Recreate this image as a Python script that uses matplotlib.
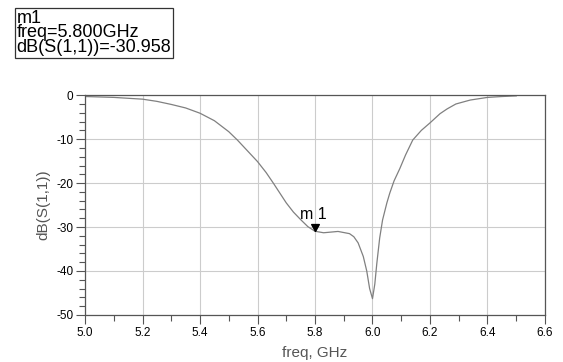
import matplotlib as mpl
mpl.use('Agg')
import matplotlib.pyplot as plt
from matplotlib.ticker import MultipleLocator

plt.rcParams['font.family'] = ['Liberation Sans', 'DejaVu Sans']

# S11 sweep
freq = [5.0, 5.1, 5.15, 5.2, 5.25, 5.3, 5.35, 5.4, 5.45, 5.5, 5.53, 5.57, 5.6,
        5.63, 5.655, 5.68, 5.7, 5.725, 5.75, 5.775, 5.8,
        5.83, 5.88, 5.92, 5.935, 5.95, 5.968, 5.98, 5.99, 6.0, 6.008, 6.015,
        6.025, 6.035, 6.05, 6.06, 6.075, 6.095, 6.115, 6.14, 6.17, 6.2,
        6.235, 6.26, 6.29, 6.34, 6.4, 6.45, 6.5]
s11 = [-0.3, -0.5, -0.7, -0.9, -1.4, -2.1, -2.9, -4.1, -5.8, -8.3, -10.2, -13.0, -15.1,
       -17.6, -20.0, -22.5, -24.5, -26.6, -28.3, -29.9, -30.958,
       -31.3, -31.0, -31.5, -32.2, -33.6, -36.7, -40.0, -44.0, -46.3, -43.0, -38.3,
       -32.5, -28.4, -24.5, -22.3, -19.5, -16.7, -13.6, -10.2, -8.0, -6.3,
       -4.2, -3.1, -2.0, -1.1, -0.5, -0.3, -0.15]

marker_name = 'm1'
marker_freq = 5.8
marker_val = -30.958

xticks = [5.0, 5.2, 5.4, 5.6, 5.8, 6.0, 6.2, 6.4, 6.6]
yticks = [-50, -40, -30, -20, -10, 0]

fig = plt.figure(figsize=(5.63, 3.62), dpi=100)
ax = fig.add_axes([0.151, 0.130, 0.817, 0.607])

ax.plot(freq, s11, color='#808080', lw=0.9)
# marker triangle with its tip on the trace
tri = [(0, 0), (-0.55, 1.0), (0.55, 1.0), (0, 0)]
ax.plot([marker_freq], [marker_val], marker=tri, color='black', ms=10, linestyle='none')
ax.annotate('m 1', xy=(marker_freq, marker_val), xytext=(-1, 7),
            textcoords='offset points', ha='center', va='bottom', fontsize=11.5)

ax.set_xlim(5.0, 6.6)
ax.set_ylim(-50, 0)
ax.set_xticks(xticks)
ax.set_yticks(yticks)
ax.set_xticklabels(['%.1f' % x for x in xticks])
ax.set_yticklabels(['%d' % y for y in yticks])
ax.xaxis.set_minor_locator(MultipleLocator(0.1))
ax.yaxis.set_minor_locator(MultipleLocator(2))
ax.tick_params(which='major', direction='out', length=6.5, width=0.8, color='#555555',
               labelsize=8.5, pad=2)
ax.tick_params(which='minor', direction='out', length=4, width=0.8, color='#555555')
ax.grid(True, which='major', color='#cccccc', lw=0.8)
for s in ax.spines.values():
    s.set_color('#555555')
    s.set_linewidth(0.9)

ax.set_xlabel('freq, GHz', fontsize=11, color='#555555', labelpad=5)
ax.set_ylabel('dB(S(1,1))', fontsize=11, color='#555555', labelpad=4)

fig.text(0.029, 0.846, '%s\nfreq=%.3fGHz\ndB(S(1,1))=%.3f' % (marker_name, marker_freq, marker_val),
         fontsize=13, linespacing=0.8, va='bottom', ha='left',
         bbox=dict(boxstyle='square,pad=0.1', fc='white', ec='#333333', lw=0.9))

fig.savefig('out.png', dpi=100)
plt.close()
